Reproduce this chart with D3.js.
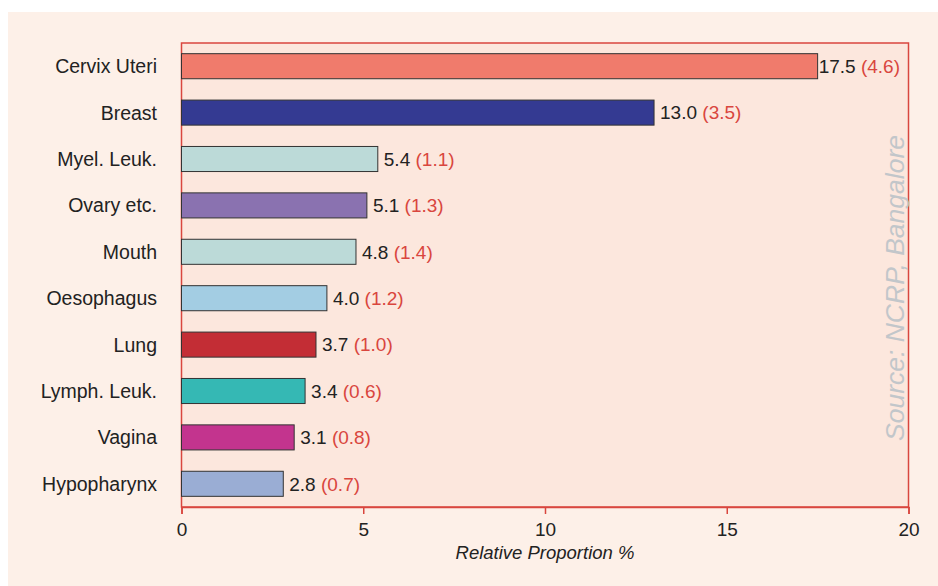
<!DOCTYPE html>
<html><head><meta charset="utf-8">
<script src="https://cdn.jsdelivr.net/npm/d3@7"></script>
<style>body{margin:0;background:#fff;}svg{display:block;font-family:"Liberation Sans",Arial,sans-serif;}</style>
</head><body>
<svg id="chart" width="938" height="586"></svg>
<script>
const categories = ["Cervix Uteri","Breast","Myel. Leuk.","Ovary etc.","Mouth","Oesophagus","Lung","Lymph. Leuk.","Vagina","Hypopharynx"];
const values = [17.5,13.0,5.4,5.1,4.8,4.0,3.7,3.4,3.1,2.8];
const secondary = ["4.6","3.5","1.1","1.3","1.4","1.2","1.0","0.6","0.8","0.7"];
const colors = ["#F07B6C","#343A92","#BCDAD8","#8A72B0","#BCDAD8","#A3CDE3","#C32D35","#35B8B4","#C3348E","#9AADD4"];
const xTicks = [0,5,10,15,20];

(function(){
const svg = d3.select("#chart");
svg.append("rect").attr("x",8).attr("y",12).attr("width",930).attr("height",574).attr("fill","#FDF0E8");

const pL=181.5, pR=908.5, pT=43, pB=507;
const x = d3.scaleLinear().domain([0,20]).range([pL,pR]);
const y = d3.scaleBand().domain(categories).range([pT,pB]).paddingInner(0.46).paddingOuter(0.23);

svg.append("rect").attr("x",pL).attr("y",pT).attr("width",pR-pL).attr("height",pB-pT)
  .attr("fill","#FCE7DD").attr("stroke","#D9463E").attr("stroke-width",1.5);

svg.append("text").attr("transform",`translate(904,${(pT+pB)/2 + 13}) rotate(-90)`)
  .attr("text-anchor","middle").attr("font-style","italic").attr("font-size",26.5)
  .attr("fill","#C2C6CA").text("Source: NCRP, Bangalore");

const g = svg.append("g");
g.selectAll("rect.bar").data(categories).join("rect").attr("class","bar")
  .attr("x",x(0)).attr("y",d=>y(d)).attr("width",(d,i)=>x(values[i])-x(0)).attr("height",y.bandwidth())
  .attr("fill",(d,i)=>colors[i]).attr("stroke","#333").attr("stroke-width",1);

const lbl = g.selectAll("text.val").data(categories).join("text").attr("class","val")
  .attr("x",(d,i)=>x(values[i])+ (i===0?1:6)).attr("y",d=>y(d)+y.bandwidth()/2).attr("dy","0.36em")
  .attr("font-size",19).attr("fill","#222");
lbl.append("tspan").text((d,i)=>values[i].toFixed(1)+" ");
lbl.append("tspan").attr("fill","#D9463E").text((d,i)=>"("+secondary[i]+")");

g.selectAll("text.cat").data(categories).join("text").attr("class","cat")
  .attr("x",157).attr("y",d=>y(d)+y.bandwidth()/2).attr("dy","0.36em")
  .attr("text-anchor","end").attr("font-size",19.5).attr("fill","#222").text(d=>d);

const ax = svg.append("g").attr("transform",`translate(0,${pB})`)
  .call(d3.axisBottom(x).tickValues(xTicks).tickSize(7).tickPadding(9).tickFormat(d3.format("d")));
ax.select(".domain").attr("stroke","#D9463E").attr("stroke-width",1.5);
ax.selectAll(".tick line").attr("stroke","#D9463E").attr("stroke-width",1.5);
ax.selectAll(".tick text").attr("font-size",19).attr("fill","#222").attr("font-family","Liberation Sans, Arial, sans-serif");

svg.append("text").attr("x",545).attr("y",559).attr("text-anchor","middle")
  .attr("font-style","italic").attr("font-size",18.5).attr("fill","#222").text("Relative Proportion %");
})();
</script>
</body></html>
